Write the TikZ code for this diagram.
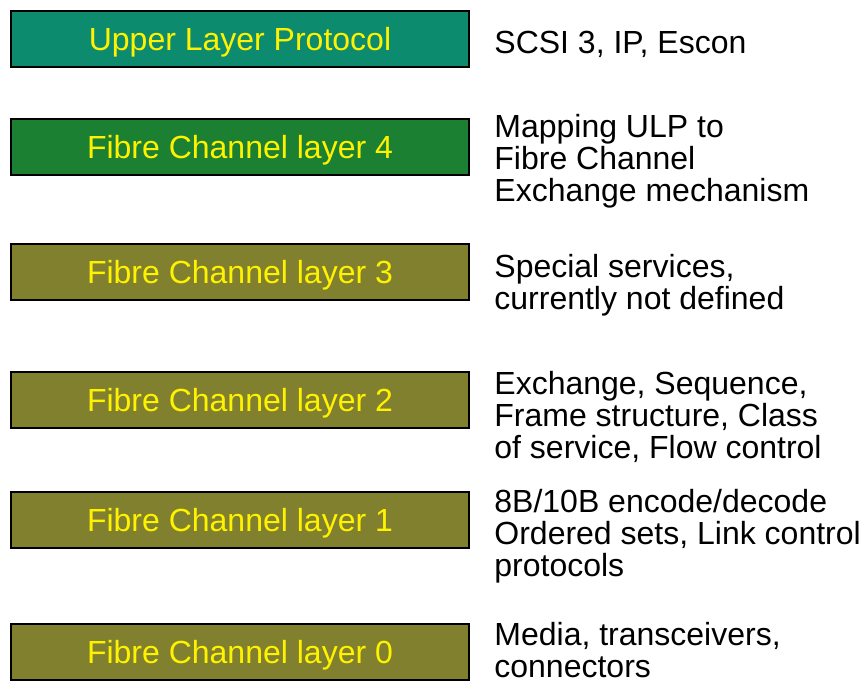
\documentclass[tikz,border=0pt]{standalone}
\usepackage{fontspec}
\setmainfont{Liberation Sans}

\definecolor{ulpteal}{RGB}{12,139,111}
\definecolor{fcgreen}{RGB}{27,128,50}
\definecolor{fcolive}{RGB}{128,128,46}

\tikzset{
  layerbox/.style={draw=black, line width=1pt, minimum width=229pt, minimum height=28pt,
    inner sep=0pt, text=yellow, font=\fontsize{16}{15.8}\selectfont,
    text height=11.5pt, text depth=0pt},
  % anchored on the baseline of the last line
  layernote/.style={anchor=base west, inner sep=0pt, align=left,
    font=\fontsize{16}{15.8}\selectfont}
}

\begin{document}
\begin{tikzpicture}[x=0.5pt,y=-0.5pt]
  \useasboundingbox (0,0) rectangle (861,682);
  % protocol stack
  \node[layerbox, fill=ulpteal] (ulp) at (240,39) {Upper Layer Protocol};
  \node[layerbox, fill=fcgreen] (fc4) at (240,147) {Fibre Channel layer 4};
  \node[layerbox, fill=fcolive] (fc3) at (240,272) {Fibre Channel layer 3};
  \node[layerbox, fill=fcolive] (fc2) at (240,400) {Fibre Channel layer 2};
  \node[layerbox, fill=fcolive] (fc1) at (240,520) {Fibre Channel layer 1};
  \node[layerbox, fill=fcolive] (fc0) at (240,652) {Fibre Channel layer 0};
  % what each layer does
  \node[layernote] (ulpnote) at (494,53) {SCSI 3, IP, Escon};
  \node[layernote] (fc4note) at (494,201) {Mapping ULP to\\Fibre Channel\\Exchange mechanism};
  \node[layernote] (fc3note) at (494,309) {Special services,\\currently not defined};
  \node[layernote] (fc2note) at (494,458) {Exchange, Sequence,\\Frame structure, Class\\of service, Flow control};
  \node[layernote] (fc1note) at (494,576) {8B/10B encode/decode\\Ordered sets, Link control\\protocols};
  \node[layernote] (fc0note) at (494,677) {Media, transceivers,\\connectors};
\end{tikzpicture}
\end{document}
